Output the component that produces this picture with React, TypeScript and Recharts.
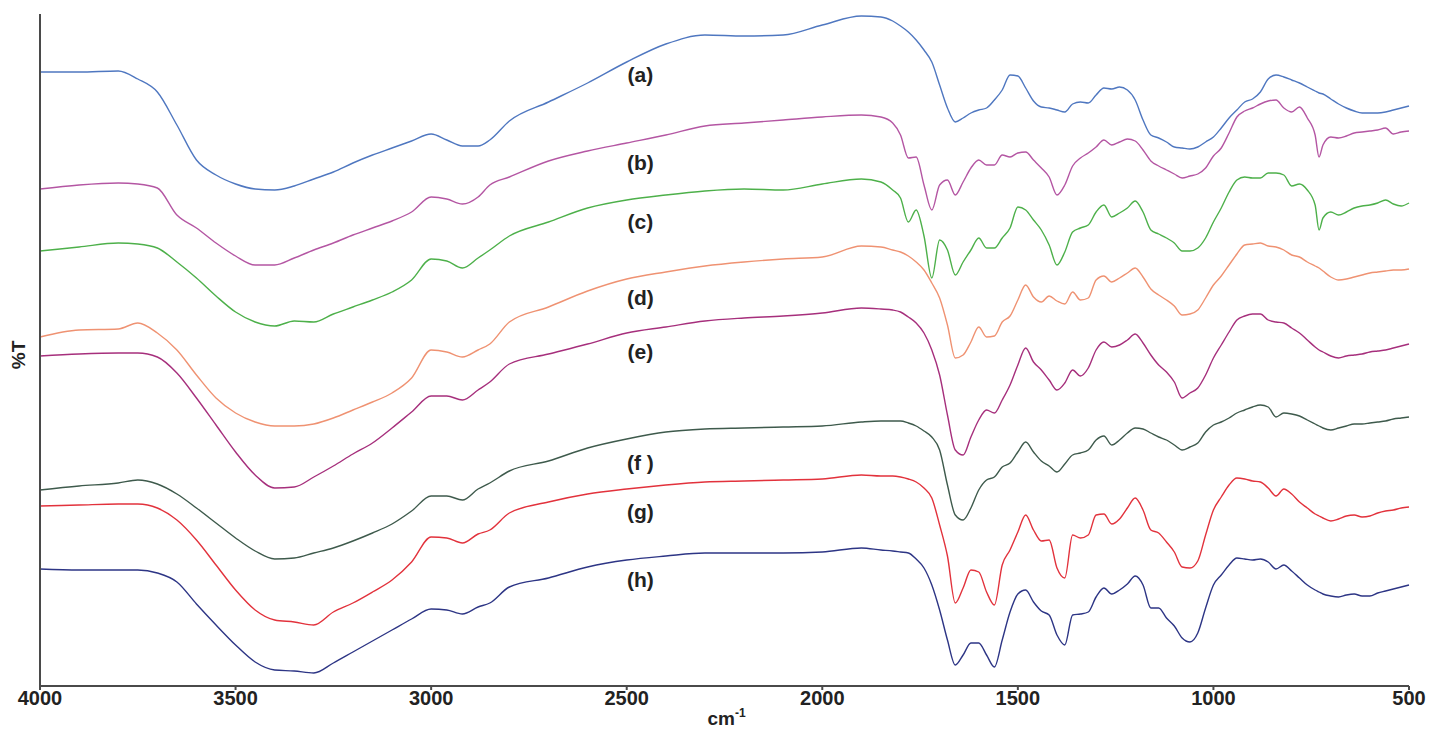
import { LineChart, Line, XAxis, YAxis, ReferenceDot } from "recharts"

// wavenumber grid (cm-1), shared by all spectra
const wavenumbers = [
    4000, 3900, 3800, 3750, 3700, 3650, 3600, 3550, 3500, 3450, 3400, 3350, 3300, 3250, 3200, 3150, 3100,
    3050, 3000, 2960, 2920, 2880, 2850, 2800, 2700, 2600, 2500, 2400, 2300, 2200, 2100, 2000, 1900, 1850,
    1820, 1800, 1780, 1760, 1740, 1720, 1700, 1680, 1660, 1640,
    1620, 1600, 1580, 1560, 1540, 1520, 1500, 1480, 1460, 1440,
    1420, 1400, 1380, 1360, 1340, 1320, 1300, 1280, 1260, 1240,
    1220, 1200, 1180, 1160, 1140, 1120, 1100, 1080, 1060, 1040,
    1020, 1000, 980, 960, 940, 920, 900, 880, 860, 840,
    820, 800, 780, 760, 740, 730, 720, 700, 680, 660,
    640, 620, 600, 580, 560, 540, 520, 500,
]

// %T (offset, stacked) for each sample
const seriesA = [
    61.4, 61.4, 61.5, 60.7, 59.4, 56.1, 52.6, 51.1, 50.2, 49.7, 49.6, 50.0, 50.7, 51.4, 52.3, 53.1, 53.8,
    54.5, 55.2, 54.6, 54.0, 54.0, 54.6, 56.5, 58.4, 60.3, 62.4, 64.2, 65.1, 65.0, 65.1, 66.1, 67.0, 66.9,
    66.5, 66.0, 65.4, 64.6, 63.6, 62.4, 60.1, 57.8, 56.4, 56.8,
    57.3, 57.6, 57.8, 58.6, 59.6, 61.1, 61.0, 59.8, 58.5, 57.9,
    57.8, 57.6, 57.4, 58.2, 58.4, 58.3, 59.1, 59.8, 59.7, 59.9,
    59.6, 58.6, 56.6, 55.1, 54.8, 54.4, 53.9, 53.8, 53.7, 53.9,
    54.4, 54.9, 55.8, 56.8, 57.6, 58.4, 58.7, 59.4, 60.7, 61.1,
    60.9, 60.6, 60.3, 59.9, 59.5, 59.3, 59.2, 58.7, 58.2, 57.8,
    57.5, 57.3, 57.3, 57.3, 57.4, 57.6, 57.8, 58.0,
]
const seriesB = [
    49.7, 50.1, 50.3, 50.2, 49.8, 47.1, 45.8, 44.3, 43.0, 42.1, 42.1, 42.8, 43.6, 44.3, 45.1, 45.8, 46.5,
    47.4, 48.9, 48.7, 48.2, 48.9, 50.1, 50.9, 52.5, 53.5, 54.3, 55.1, 56.0, 56.3, 56.6, 56.9, 57.1, 56.9,
    56.3, 55.1, 52.8, 52.9, 50.1, 47.6, 50.1, 50.6, 49.1, 50.4,
    51.8, 52.6, 52.1, 52.1, 53.1, 52.9, 53.3, 53.4, 52.6, 51.8,
    50.9, 49.1, 50.1, 52.0, 52.8, 53.3, 53.9, 54.6, 54.1, 54.4,
    54.7, 54.5, 53.6, 52.5, 52.0, 51.6, 51.2, 50.8, 51.0, 51.2,
    51.8, 53.0, 53.8, 55.3, 56.9, 57.5, 57.8, 58.2, 58.5, 58.6,
    57.8, 57.4, 57.9, 56.8, 55.1, 52.9, 54.1, 54.9, 54.8, 55.0,
    55.3, 55.4, 55.5, 55.6, 55.8, 55.2, 55.4, 55.5,
]
const seriesC = [
    43.5, 43.9, 44.3, 44.2, 43.8, 42.4, 40.8, 39.0, 37.4, 36.4, 36.0, 36.5, 36.4, 37.2, 37.9, 38.6, 39.4,
    40.6, 42.7, 42.5, 41.8, 42.8, 43.6, 45.0, 46.4, 47.8, 48.6, 49.1, 49.5, 49.7, 49.6, 50.2, 50.7, 50.4,
    49.6, 48.8, 46.4, 47.6, 45.0, 40.8, 44.6, 43.6, 41.1, 42.4,
    43.6, 44.8, 43.8, 43.8, 44.8, 45.8, 47.9, 47.6, 46.6, 45.6,
    44.1, 42.1, 43.4, 45.4, 45.8, 46.1, 47.4, 48.1, 46.9, 47.3,
    47.8, 48.5, 47.4, 45.6, 45.2, 44.8, 44.3, 43.5, 43.5, 43.8,
    44.8, 46.4, 47.8, 49.4, 50.6, 50.9, 50.8, 50.8, 51.3, 51.3,
    51.1, 50.0, 50.2, 49.6, 48.1, 45.6, 46.8, 47.4, 47.1, 47.4,
    47.8, 48.0, 48.1, 48.3, 48.6, 48.2, 48.0, 48.3,
]
const seriesD = [
    34.9, 35.6, 35.7, 36.3, 35.3, 33.6, 31.1, 28.8, 27.3, 26.4, 26.0, 26.0, 26.2, 26.8, 27.6, 28.4, 29.3,
    30.8, 33.6, 33.4, 32.9, 33.6, 34.2, 36.4, 37.9, 39.5, 40.7, 41.4, 42.0, 42.4, 42.7, 42.9, 44.0, 43.9,
    43.6, 43.4, 43.0, 42.4, 41.6, 40.3, 38.8, 36.1, 32.8, 33.1,
    34.4, 35.9, 34.9, 35.0, 36.4, 37.0, 38.6, 40.1, 38.9, 38.4,
    39.0, 38.5, 38.2, 39.4, 38.6, 38.8, 40.6, 41.0, 40.4, 40.8,
    41.3, 41.8, 40.9, 39.7, 39.1, 38.6, 38.0, 37.1, 37.2, 37.6,
    38.8, 40.1, 41.0, 42.1, 43.2, 44.1, 44.2, 44.3, 44.0, 43.9,
    43.6, 43.1, 42.9, 42.4, 42.0, 41.8, 41.5, 40.9, 40.6, 40.7,
    40.9, 41.1, 41.3, 41.4, 41.5, 41.6, 41.6, 41.7,
]
const seriesE = [
    33.0, 33.2, 33.3, 33.3, 32.9, 31.3, 28.8, 26.1, 23.4, 21.1, 19.8, 19.9, 20.9, 22.0, 23.2, 24.3, 25.8,
    27.4, 29.0, 29.0, 28.6, 29.6, 30.4, 32.2, 33.2, 34.2, 35.3, 35.9, 36.5, 36.8, 37.0, 37.3, 37.8, 37.7,
    37.6, 37.4, 36.9, 36.3, 35.3, 33.6, 31.1, 27.1, 23.6, 23.1,
    24.9, 26.6, 27.6, 27.3, 28.6, 30.1, 32.1, 33.8, 32.4, 31.6,
    30.6, 29.6, 30.3, 31.6, 31.0, 31.8, 33.6, 34.4, 33.9, 34.1,
    34.6, 35.2, 34.3, 33.1, 32.1, 31.4, 30.4, 28.8, 29.3, 29.8,
    31.1, 32.8, 34.1, 35.4, 36.6, 37.0, 37.2, 37.2, 36.6, 36.4,
    36.3, 35.8, 35.3, 34.6, 33.9, 33.6, 33.4, 33.0, 32.8, 33.0,
    33.1, 33.2, 33.4, 33.5, 33.6, 33.8, 34.0, 34.2,
]
const seriesF = [
    19.6, 20.0, 20.3, 20.6, 20.2, 19.2, 17.8, 16.3, 14.8, 13.5, 12.7, 12.8, 13.3, 13.8, 14.5, 15.3, 16.2,
    17.5, 19.0, 19.0, 18.6, 19.7, 20.3, 21.5, 22.5, 23.8, 24.7, 25.4, 25.7, 25.8, 25.9, 26.0, 26.4, 26.5,
    26.5, 26.5, 26.3, 26.0, 25.5, 24.9, 23.6, 20.1, 17.1, 16.6,
    17.8, 19.6, 20.6, 20.9, 21.9, 22.3, 23.4, 24.4, 23.4, 22.5,
    22.0, 21.4, 22.2, 23.1, 23.3, 23.6, 24.6, 25.0, 24.1, 24.6,
    25.3, 25.8, 25.7, 25.3, 24.9, 24.6, 24.1, 23.6, 23.9, 24.3,
    25.4, 26.1, 26.4, 26.8, 27.3, 27.6, 27.9, 28.1, 27.9, 26.9,
    27.3, 27.2, 27.0, 26.6, 26.2, 26.0, 25.8, 25.6, 25.8, 26.0,
    26.2, 26.2, 26.3, 26.4, 26.5, 26.7, 26.8, 26.9,
]
const seriesG = [
    18.0, 18.1, 18.2, 18.2, 17.8, 16.6, 14.6, 12.1, 9.6, 7.6, 6.6, 6.4, 6.1, 7.4, 8.3, 9.4, 10.6,
    12.4, 14.9, 14.8, 14.3, 15.2, 15.6, 17.3, 18.4, 19.2, 19.7, 20.1, 20.4, 20.5, 20.6, 20.7, 21.1, 21.0,
    21.0, 20.9, 20.7, 20.4, 19.8, 18.8, 16.1, 13.0, 8.3, 9.8,
    11.6, 11.4, 9.4, 8.1, 12.1, 13.6, 15.4, 17.1, 15.6, 14.5,
    14.6, 11.8, 10.8, 15.1, 14.8, 15.1, 17.1, 17.2, 16.2, 16.7,
    17.8, 18.8, 17.6, 15.6, 15.3, 14.4, 13.4, 11.9, 11.8, 12.5,
    15.1, 17.6, 18.9, 20.1, 20.8, 20.7, 20.5, 20.4, 19.8, 19.0,
    19.7, 19.2, 18.4, 17.8, 17.2, 17.0, 16.8, 16.5, 16.7, 17.0,
    17.1, 16.9, 17.0, 17.3, 17.5, 17.6, 17.8, 17.9,
]
const seriesH = [
    11.7, 11.6, 11.6, 11.6, 11.3, 10.4, 8.2, 6.1, 4.1, 2.4, 1.6, 1.5, 1.3, 2.3, 3.4, 4.5, 5.6,
    6.7, 7.7, 7.6, 7.2, 7.9, 8.3, 9.9, 10.8, 11.9, 12.6, 13.0, 13.3, 13.3, 13.3, 13.4, 13.8, 13.6,
    13.5, 13.4, 13.3, 12.7, 11.8, 10.1, 7.6, 4.6, 2.1, 3.1,
    4.3, 4.3, 3.1, 1.9, 4.6, 7.4, 9.2, 9.6, 8.4, 7.5,
    7.1, 5.1, 4.1, 7.1, 7.2, 7.4, 8.9, 9.8, 9.2, 9.6,
    10.2, 11.0, 10.1, 7.8, 7.8, 6.8, 6.0, 4.8, 4.4, 5.3,
    7.8, 10.1, 11.1, 12.1, 12.8, 12.7, 12.6, 12.7, 12.4, 11.7,
    12.1, 11.5, 10.8, 10.1, 9.6, 9.4, 9.2, 9.0, 8.9, 9.1,
    9.2, 9.0, 9.0, 9.3, 9.5, 9.7, 9.9, 10.1,
]

const seriesKeys = ["a", "b", "c", "d", "e", "f", "g", "h"]
const seriesColors = ["#4f77c0", "#b456a3", "#4db04a", "#ef9272", "#a62f7c", "#3e5a4c", "#e2323c", "#2d3585"]

// curve labels, placed in the 2500 cm-1 gap
const curveLabels = ["(a)", "(b)", "(c)", "(d)", "(e)", "(f )", "(g)", "(h)"]
const labelWavenumber = 2465
const labelValues = [61.1, 52.3, 46.4, 38.8, 33.4, 22.3, 17.4, 10.6]

const xTicks = [4000, 3500, 3000, 2500, 2000, 1500, 1000, 500]
const yTicks = [0, 6.72, 13.44, 20.16, 26.88, 33.6, 40.32, 47.04, 53.76, 60.48, 67.2]

const allSeries = [seriesA, seriesB, seriesC, seriesD, seriesE, seriesF, seriesG, seriesH]

const rows = wavenumbers.map((w, i) => {
    const row: Record<string, number> = { w }
    seriesKeys.forEach((k, j) => {
        row[k] = allSeries[j][i]
    })
    return row
})

const FONT = "'Liberation Sans', Arial, sans-serif"
const AXIS = "#4a4a4a"

const renderXTitle = (props: any) => {
    const vb = props.viewBox
    const cx = vb.x + vb.width / 2 + 2
    const y = vb.y + vb.height - 1
    return (
        <text x={cx} y={y} textAnchor="middle" fontFamily={FONT} fontWeight="bold" fontSize={19} fill="#222">
            cm
            <tspan dy={-8} fontSize={12}>-1</tspan>
        </text>
    )
}

const renderYTitle = (props: any) => {
    const vb = props.viewBox
    const x = 25
    const y = vb.y + vb.height / 2 + 5
    return (
        <text
            x={x}
            y={y}
            textAnchor="middle"
            transform={`rotate(-90, ${x}, ${y})`}
            fontFamily={FONT}
            fontWeight="bold"
            fontSize={19}
            fill="#222"
        >
            %T
        </text>
    )
}

export default function App() {
    return (
        <div style={{ position: "absolute", left: 0, top: 0, width: 1445, height: 738, background: "#fff" }}>
            <LineChart
                width={1445}
                height={738}
                data={rows}
                margin={{ top: 14, right: 36, bottom: 12, left: 0 }}
            >
                <XAxis
                    dataKey="w"
                    type="number"
                    domain={[500, 4000]}
                    reversed
                    ticks={xTicks}
                    interval={0}
                    height={40}
                    tickSize={4}
                    tickMargin={1}
                    stroke={AXIS}
                    strokeWidth={2}
                    tick={{ fontSize: 20, fontWeight: "bold", fill: "#222", fontFamily: FONT }}
                    label={renderXTitle}
                />
                <YAxis
                    type="number"
                    domain={[0, 67.2]}
                    ticks={yTicks}
                    interval={0}
                    width={40}
                    tickSize={5}
                    tick={false}
                    stroke={AXIS}
                    strokeWidth={2}
                    label={renderYTitle}
                />
                {seriesKeys.map((k, j) => (
                    <Line
                        key={k}
                        dataKey={k}
                        type="monotone"
                        stroke={seriesColors[j]}
                        strokeWidth={1.4}
                        dot={false}
                        activeDot={false}
                        isAnimationActive={false}
                    />
                ))}
                {curveLabels.map((t, j) => (
                    <ReferenceDot
                        key={t}
                        x={labelWavenumber}
                        y={labelValues[j]}
                        r={0}
                        fill="none"
                        stroke="none"
                        label={{
                            value: t,
                            position: "center",
                            fill: "#222",
                            fontSize: 21,
                            fontWeight: "bold",
                            fontFamily: FONT,
                        }}
                    />
                ))}
            </LineChart>
        </div>
    )
}
